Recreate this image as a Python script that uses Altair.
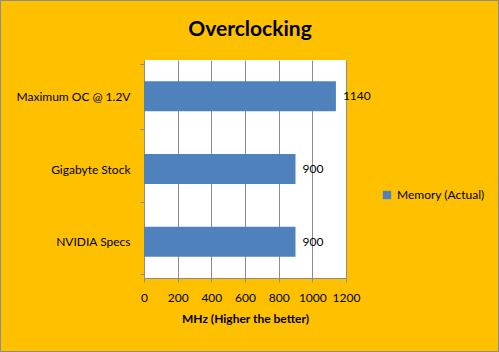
import altair as alt
import pandas as pd

categories = ["Maximum OC @ 1.2V", "Gigabyte Stock", "NVIDIA Specs"]
values = [1140, 900, 900]
series = "Memory (Actual)"
x_ticks = [0, 200, 400, 600, 800, 1000, 1200]

df = pd.DataFrame({"cat": categories, "val": values, "series": [series] * 3})

FONT = "Lato"
W, H = 202, 218
LEFT, TOP = 144, 60

x_axis = alt.Axis(values=x_ticks, format="d", labelOverlap=False, labelFlush=False, tickCount=7,
                  title="MHz (Higher the better)", grid=True,
                  gridColor="#8c8c8c", domainColor="#8c8c8c", tickColor="#8c8c8c",
                  tickSize=4, labelPadding=10, labelFontSize=12, labelFont=FONT,
                  labelColor="#000", titleFont=FONT, titleFontSize=12,
                  titleFontWeight="bold", titleColor="#000", titlePadding=10)
x_scale = alt.Scale(domain=[0, 1200], nice=False)
y_axis = alt.Axis(title=None, labelFontSize=12, labelFont=FONT, labelColor="#000",
                  domainColor="#8c8c8c", tickColor="#8c8c8c", tickSize=4,
                  tickBand="extent", labelPadding=10)

border = alt.Chart(df).mark_rect(fill=None, stroke="#8c8c8c", strokeWidth=1, clip=False).encode(
    x=alt.value(-LEFT + 0.5), x2=alt.value(499 - LEFT - 0.5),
    y=alt.value(-TOP + 0.5), y2=alt.value(352 - TOP - 0.5),
)

bars = alt.Chart(df).mark_bar(size=30).encode(
    x=alt.X("val:Q", scale=x_scale, axis=x_axis),
    y=alt.Y("cat:N", sort=categories, axis=y_axis),
    color=alt.Color("series:N", scale=alt.Scale(range=["#4F81BD"]),
                    legend=alt.Legend(title=None, orient="none", legendX=237, legendY=129,
                                      symbolType="square", symbolSize=70,
                                      labelFont=FONT, labelFontSize=12, labelColor="#000")),
)

labels = alt.Chart(df).mark_text(align="left", dx=7, font=FONT, fontSize=12, color="#000").encode(
    x=alt.X("val:Q", scale=x_scale, axis=x_axis),
    y=alt.Y("cat:N", sort=categories, axis=y_axis),
    text="val:Q",
)

chart = alt.layer(border, bars, labels).properties(
    width=W, height=H,
    background="#FFC000",
    padding={"left": LEFT, "top": TOP, "right": 499 - LEFT - W, "bottom": 352 - TOP - H},
    autosize=alt.AutoSizeParams(type="none"),
    title=alt.TitleParams("Overclocking", font=FONT, fontSize=21, fontWeight="bold",
                          color="#000", anchor="middle", frame="group", offset=-40, dx=5),
).configure_view(fill="white", stroke=None)

chart.save("out.html", embed_options={"renderer": "svg", "actions": False})
